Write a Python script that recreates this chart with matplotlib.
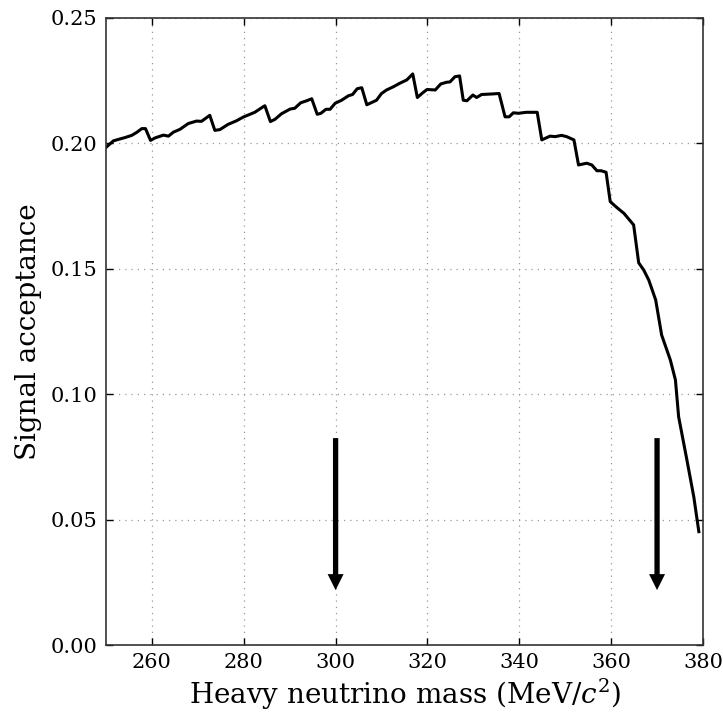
import matplotlib
matplotlib.use("Agg")
import matplotlib.pyplot as plt

mass = [250.0, 251.6, 252.7, 254.1, 255.6, 256.7, 257.8, 258.6, 259.7, 260.7,
        262.5, 263.6, 264.7, 266.1, 267.9, 269.7, 270.8, 272.6, 273.7, 274.8,
        276.6, 278.4, 279.9, 282.4, 284.3, 284.6, 285.8, 286.8, 288.2, 290.1,
        291.1, 292.4, 293.7, 294.8, 296.0, 296.8, 297.9, 298.8, 299.9, 301.3,
        302.8, 303.7, 304.7, 305.7, 306.8, 308.9, 310.0, 311.1, 312.6, 314.0,
        315.5, 316.8, 317.8, 318.8, 319.9, 321.7, 322.9, 324.2, 324.9, 326.0,
        327.0, 327.8, 328.6, 329.9, 330.7, 331.8, 334.0, 335.6, 336.9, 337.8,
        338.7, 339.8, 341.5, 343.9, 344.9, 346.7, 347.8, 349.2, 350.3, 351.9,
        352.9, 354.7, 355.8, 356.9, 357.8, 358.9, 359.8, 361.2, 362.8, 364.9,
        366.0, 367.1, 368.2, 369.7, 371.0, 372.9, 374.0, 374.7, 376.5, 378.0,
        379.1]
acceptance = [0.1984, 0.2010, 0.2016, 0.2023, 0.2032, 0.2044, 0.2059, 0.2059, 0.2012, 0.2022,
              0.2033, 0.2029, 0.2045, 0.2056, 0.2079, 0.2089, 0.2088, 0.2112, 0.2052, 0.2055,
              0.2076, 0.2090, 0.2105, 0.2124, 0.2147, 0.2150, 0.2087, 0.2096, 0.2118, 0.2137,
              0.2140, 0.2162, 0.2170, 0.2178, 0.2116, 0.2120, 0.2136, 0.2136, 0.2160, 0.2172,
              0.2190, 0.2195, 0.2218, 0.2222, 0.2154, 0.2172, 0.2199, 0.2213, 0.2226, 0.2240,
              0.2253, 0.2277, 0.2183, 0.2199, 0.2215, 0.2213, 0.2237, 0.2244, 0.2245, 0.2266,
              0.2269, 0.2172, 0.2170, 0.2193, 0.2183, 0.2195, 0.2197, 0.2199, 0.2106, 0.2106,
              0.2122, 0.2120, 0.2124, 0.2124, 0.2014, 0.2029, 0.2027, 0.2032, 0.2027, 0.2014,
              0.1914, 0.1921, 0.1914, 0.1891, 0.1891, 0.1885, 0.1768, 0.1745, 0.1721, 0.1675,
              0.1524, 0.1495, 0.1455, 0.1376, 0.1236, 0.1136, 0.1057, 0.0910, 0.0738, 0.0591,
              0.0452]

arrow_x = [300, 370]
arrow_top = 0.0825
arrow_tip = 0.0219

x_ticks = [260, 280, 300, 320, 340, 360, 380]
y_ticks = [0.00, 0.05, 0.10, 0.15, 0.20, 0.25]

plt.rcParams['font.family'] = ['DejaVu Serif']
plt.rcParams['mathtext.fontset'] = 'dejavuserif'

fig = plt.figure(figsize=(7.23, 7.14), dpi=100)
ax = fig.add_axes([0.1466, 0.0966, 0.9723 - 0.1466, 0.9748 - 0.0966])

ax.plot(mass, acceptance, color='black', lw=2.2)

for xa in arrow_x:
    ax.annotate('', xy=(xa, arrow_tip), xytext=(xa, arrow_top),
                arrowprops=dict(facecolor='black', edgecolor='black', width=3.8,
                                headwidth=11.5, headlength=11.5, shrink=0.0, lw=0))

ax.set_xlim(250, 380)
ax.set_ylim(0, 0.25)
ax.set_xticks(x_ticks)
ax.set_yticks(y_ticks)
ax.set_yticklabels([f"{v:.2f}" for v in y_ticks])
ax.grid(True, linestyle=(0, (1, 4)), color='#999999', lw=0.9)
ax.tick_params(direction='in', top=True, right=True, length=5, width=1,
               labelsize=15, pad=6)
for s in ax.spines.values():
    s.set_color('#333333')
    s.set_linewidth(1.2)

ax.set_xlabel('Heavy neutrino mass (MeV/$c^2$)', fontsize=20, labelpad=3)
ax.set_ylabel('Signal acceptance', fontsize=20, labelpad=6)

fig.savefig('out.png', dpi=100)
